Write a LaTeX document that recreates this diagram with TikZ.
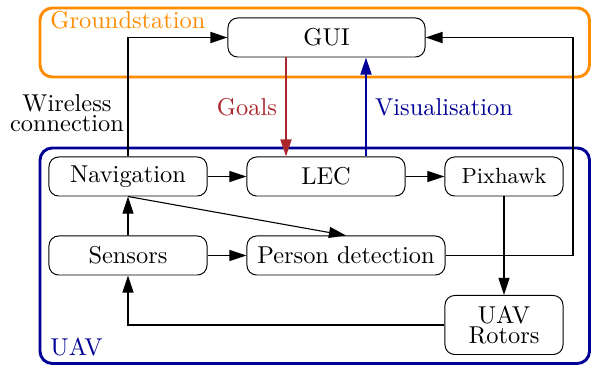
\documentclass[tikz,border=0pt]{standalone}
\usetikzlibrary{arrows.meta,calc}
\definecolor{gsorange}{RGB}{255,140,0}
\definecolor{uavblue}{RGB}{0,0,150}
\definecolor{goalred}{RGB}{170,40,45}
\begin{document}
\begin{tikzpicture}[x=0.41pt,y=-0.41pt,
  >={Triangle[length=7pt,width=4.5pt]},
  block/.style={draw,rounded corners=4pt,inner sep=0pt,minimum height=16pt},
  region/.style={line width=1.2pt,rounded corners=5pt},
  thin arrow/.style={->,line width=0.45pt},
  thick arrow/.style={->,line width=0.8pt},
  twoline/.style={align=center,font=\fontsize{10}{8.2}\selectfont}]
\useasboundingbox (0,0) rectangle (591,366);
% regions
\draw[region,gsorange] (40,8) rectangle (589.5,77);
\draw[region,uavblue] (40,148) rectangle (589.5,363.5);
\node[gsorange,anchor=west,inner sep=0pt] (gslabel) at (50,20) {Groundstation};
\node[uavblue,anchor=west,inner sep=0pt] (uavlabel) at (50,347) {UAV};
% nodes
\node[block,minimum width=80.8pt] (gui) at (326.5,37.5) {GUI};
\node[block,minimum width=64.8pt] (nav) at (128,176.5) {Navigation};
\node[block,minimum width=64.8pt] (lec) at (326,176.5) {LEC};
\node[block,minimum width=48.4pt,font=\small] (pix) at (504,176.5) {Pixhawk};
\node[block,minimum width=64.8pt] (sen) at (128,255.5) {Sensors};
\node[block,minimum width=81.2pt] (pd) at (346,255.5) {Person detection};
\node[block,minimum width=48.4pt,minimum height=24.2pt,twoline] (rot) at (504,325) {UAV\\Rotors};
\node[twoline,inner sep=0pt] (wl) at (67,113) {Wireless\\connection};
\coordinate (c1) at (573,37.5);
% connectors
\draw[thick arrow] (nav.north) |- (gui.west);
\draw[thick arrow] (pd.east) -| (c1) -- (gui.east);
\draw[thick arrow,goalred] ($(gui.south)+(-40.5,0)$) -- ($(lec.north)+(-40,0)$)
  node[midway,left,goalred] {Goals};
\draw[thick arrow,uavblue] ($(lec.north)+(40,0)$) -- ($(gui.south)+(39.5,0)$)
  node[midway,right,uavblue] {Visualisation};
\draw[thin arrow] (nav) -- (lec);
\draw[thin arrow] (lec) -- (pix);
\draw[thin arrow] (sen) -- (nav);
\draw[thin arrow] (sen) -- (pd);
\draw[thin arrow] (nav.south) -- (pd.north);
\draw[thin arrow] (pix) -- (rot);
\draw[thin arrow] (rot.west) -| (sen.south);
\end{tikzpicture}
\end{document}
